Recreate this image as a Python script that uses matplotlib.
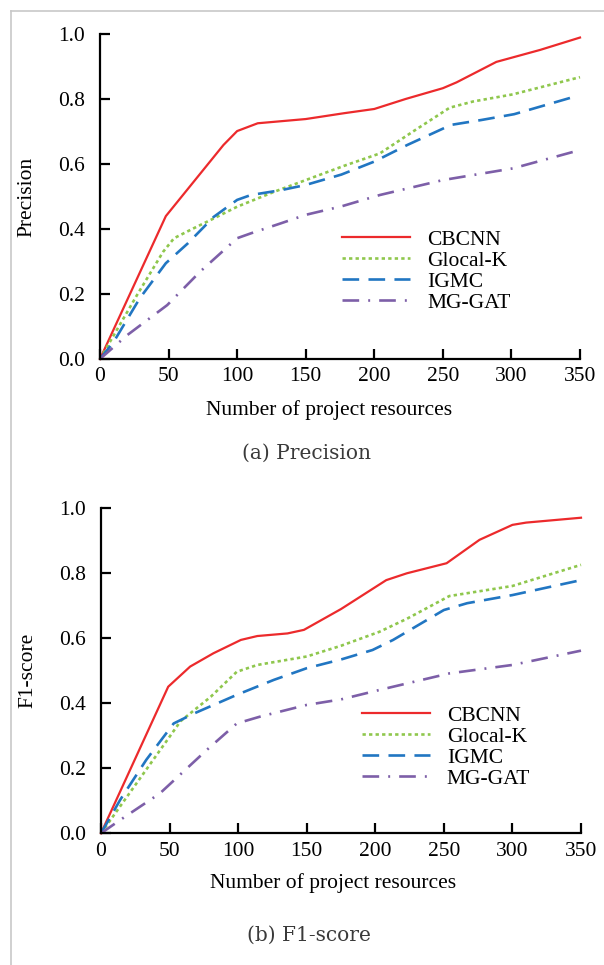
import matplotlib
matplotlib.use("Agg")
import matplotlib.pyplot as plt
from matplotlib.lines import Line2D

# ===============================
# Dados
# ===============================
# (a) Precision
x_cbcnn_p = [0, 48, 90, 100, 115, 150, 178, 200, 223, 250, 260, 289, 321, 350]
cbcnn_p = [0, 0.44, 0.659, 0.702, 0.726, 0.739, 0.757, 0.770, 0.801, 0.834, 0.852, 0.915, 0.952, 0.99]

x_glocal_p = [0, 27, 46, 54, 68, 83, 100, 127, 150, 178, 204, 228, 255, 272, 301, 350]
glocal_p = [0, 0.197, 0.33, 0.372, 0.402, 0.433, 0.469, 0.515, 0.551, 0.595, 0.633, 0.70, 0.774, 0.793, 0.815, 0.868]

x_igmc_p = [0, 10, 29, 48, 64, 83, 100, 110, 132, 150, 176, 200, 224, 256, 278, 302, 346]
igmc_p = [0, 0.053, 0.187, 0.295, 0.356, 0.438, 0.49, 0.505, 0.52, 0.536, 0.568, 0.608, 0.659, 0.721, 0.736, 0.754, 0.808]

x_mggat_p = [0, 20, 49, 73, 100, 110, 132, 150, 176, 204, 250, 301, 346]
mggat_p = [0, 0.074, 0.166, 0.269, 0.372, 0.387, 0.418, 0.444, 0.47, 0.505, 0.551, 0.587, 0.639]

# (b) F1-score
x_cbcnn_f = [0, 49, 65, 82, 102, 114, 136, 148, 175, 208, 223, 252, 276, 300, 310, 350]
cbcnn_f = [0, 0.451, 0.513, 0.554, 0.595, 0.607, 0.615, 0.626, 0.69, 0.779, 0.80, 0.831, 0.903, 0.949, 0.956, 0.971]

x_glocal_f = [0, 50, 58, 80, 99, 114, 150, 175, 203, 223, 254, 300, 350]
glocal_f = [0, 0.297, 0.345, 0.42, 0.497, 0.518, 0.544, 0.577, 0.62, 0.66, 0.73, 0.761, 0.826]

x_igmc_f = [0, 14, 33, 53, 68, 99, 126, 150, 176, 198, 213, 250, 267, 300, 350]
igmc_f = [0, 0.103, 0.226, 0.338, 0.369, 0.426, 0.472, 0.508, 0.536, 0.564, 0.595, 0.687, 0.708, 0.733, 0.779]

x_mggat_f = [0, 14, 43, 77, 99, 116, 150, 175, 203, 254, 300, 350]
mggat_f = [0, 0.041, 0.123, 0.256, 0.338, 0.359, 0.395, 0.412, 0.441, 0.492, 0.518, 0.562]

x_ticks = [0, 50, 100, 150, 200, 250, 300, 350]
y_ticks = [0.0, 0.2, 0.4, 0.6, 0.8, 1.0]

# ===============================
# Estilo
# ===============================
plt.rcParams["font.family"] = ["Liberation Serif", "DejaVu Serif"]
plt.rcParams["lines.scale_dashes"] = False

FS = 15.5
styles = {
    "CBCNN": dict(color="#ec2a2c", linestyle="-", linewidth=1.6),
    "Glocal-K": dict(color="#8fc74d", linestyle=(0, (2.4, 2.3)), linewidth=1.9),
    "IGMC": dict(color="#2176c2", linestyle=(0, (12, 6.7)), linewidth=1.9),
    "MG-GAT": dict(color="#7d5fa8", linestyle=(0, (12, 6.5, 1.4, 6.5)), linewidth=1.9),
}

fig = plt.figure(figsize=(6.04, 9.65), dpi=100)
W, H = 604.0, 965.0


def fx(px):
    return px / W


def fy(py):
    return 1 - py / H


def draw_panel(ax, series, legend_pos):
    for name, xs, ys in series:
        ax.plot(xs, ys, label=name, clip_on=False, **styles[name])
    ax.set_xlim(0, 350)
    ax.set_ylim(0, 1.0)
    ax.set_xticks(x_ticks)
    ax.set_yticks(y_ticks)
    ax.set_yticklabels([f"{v:.1f}" for v in y_ticks])
    for s in ["top", "right"]:
        ax.spines[s].set_visible(False)
    for s in ["left", "bottom"]:
        ax.spines[s].set_linewidth(1.6)
    ax.tick_params(direction="in", length=7.5, width=1.6, labelsize=FS)
    ax.tick_params(axis="x", pad=6)
    ax.tick_params(axis="y", pad=11)
    ax.legend(loc="upper left", bbox_to_anchor=legend_pos, frameon=False,
              fontsize=FS, handlelength=3.16, handletextpad=0.8,
              labelspacing=0.04, borderpad=0, borderaxespad=0)


# (a) Precision
ax1 = fig.add_axes([fx(100), fy(359), fx(580) - fx(100), fy(34.3) - fy(359)])
draw_panel(ax1, [("CBCNN", x_cbcnn_p, cbcnn_p),
                 ("Glocal-K", x_glocal_p, glocal_p),
                 ("IGMC", x_igmc_p, igmc_p),
                 ("MG-GAT", x_mggat_p, mggat_p)], (0.504, 0.398))

# (b) F1-score
ax2 = fig.add_axes([fx(101), fy(833.3), fx(581) - fx(101), fy(508.3) - fy(833.3)])
draw_panel(ax2, [("CBCNN", x_cbcnn_f, cbcnn_f),
                 ("Glocal-K", x_glocal_f, glocal_f),
                 ("IGMC", x_igmc_f, igmc_f),
                 ("MG-GAT", x_mggat_f, mggat_f)], (0.543, 0.392))

# Rótulos dos eixos e legendas das figuras
fig.text(fx(27), fy(197), "Precision", rotation=90, ha="center", va="center", fontsize=FS)
fig.text(fx(28), fy(670), "F1-score", rotation=90, ha="center", va="center", fontsize=FS)
fig.text(fx(329), fy(410), "Number of project resources", ha="center", va="center", fontsize=FS)
fig.text(fx(333), fy(883), "Number of project resources", ha="center", va="center", fontsize=FS)
fig.text(fx(307), fy(453), "(a) Precision", ha="center", va="center",
         fontsize=14.5, color="#3a3a3a", family="DejaVu Serif")
fig.text(fx(309), fy(935), "(b) F1-score", ha="center", va="center",
         fontsize=14.5, color="#3a3a3a", family="DejaVu Serif")

# Moldura cinza (topo e lado esquerdo)
fig.add_artist(Line2D([fx(10.5), 1], [fy(10.5), fy(10.5)], color="#c8c8c8", linewidth=1.2))
fig.add_artist(Line2D([fx(10.5), fx(10.5)], [fy(10.5), 0], color="#c8c8c8", linewidth=1.2))

fig.savefig("out.png", dpi=100)
